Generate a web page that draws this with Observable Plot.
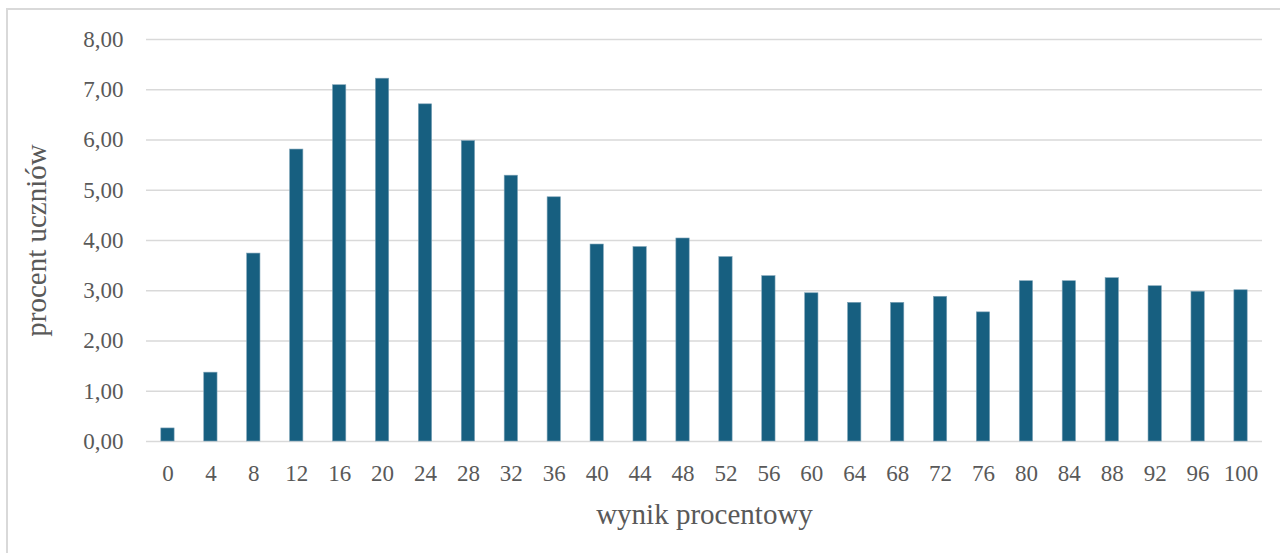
<!DOCTYPE html>
<html>
<head>
<meta charset="utf-8">
<script src="https://cdn.jsdelivr.net/npm/d3@7"></script>
<script src="https://cdn.jsdelivr.net/npm/@observablehq/plot@0.6"></script>
<style>
  html, body { margin: 0; padding: 0; background: #fff; overflow: hidden; }
  #wrap { position: relative; width: 1280px; height: 553px; }
  #border { position: absolute; left: 6px; top: 8px; width: 1400px; height: 700px;
            border-left: 2px solid #d9d9d9; border-top: 2px solid #d9d9d9; box-sizing: border-box; }
  #chart { position: absolute; left: 0; top: 0; }
</style>
</head>
<body>
<div id="wrap"><div id="border"></div><div id="chart"></div></div>
<script>
const scores = ["0","4","8","12","16","20","24","28","32","36","40","44","48","52","56","60","64","68","72","76","80","84","88","92","96","100"];
const percents = [0.26,1.37,3.74,5.81,7.09,7.22,6.71,5.98,5.29,4.86,3.92,3.87,4.04,3.67,3.29,2.95,2.76,2.76,2.88,2.57,3.19,3.19,3.25,3.09,2.98,3.01];
const yTicks = [0,1,2,3,4,5,6,7,8];
const xTitle = "wynik procentowy";
const yTitle = "procent uczniów";

const data = scores.map((s, i) => ({score: s, pct: percents[i]}));

const chart = Plot.plot({
  width: 1280,
  height: 553,
  marginLeft: 146,
  marginRight: 18,
  marginTop: 39,
  marginBottom: 112,
  style: {fontFamily: "'Liberation Serif', serif", fontSize: "23px", color: "#595959", background: "transparent"},
  x: {type: "band", domain: scores, paddingInner: 0.69, paddingOuter: 0.345, round: false, tickSize: 0, tickPadding: 23, label: null},
  y: {domain: [0, 8], ticks: yTicks, tickFormat: d => d.toFixed(2).replace(".", ","), tickSize: 0, tickPadding: 23, label: null},
  marks: [
    Plot.ruleY(yTicks, {stroke: "#d9d9d9", strokeWidth: 1.4}),
    Plot.barY(data, {x: "score", y: "pct", fill: "#175f80", stroke: "#7ea3b7", strokeWidth: 0.6}),
    Plot.text([xTitle], {frameAnchor: "bottom", dy: 82, textAnchor: "middle", fontSize: 29, fill: "#595959", fontFamily: "'Liberation Serif', serif"}),
    Plot.text([yTitle], {frameAnchor: "left", textAnchor: "middle", rotate: -90, dx: -110, fontSize: 29, fill: "#595959", fontFamily: "'Liberation Serif', serif"})
  ]
});
document.getElementById("chart").appendChild(chart);
</script>
</body>
</html>
